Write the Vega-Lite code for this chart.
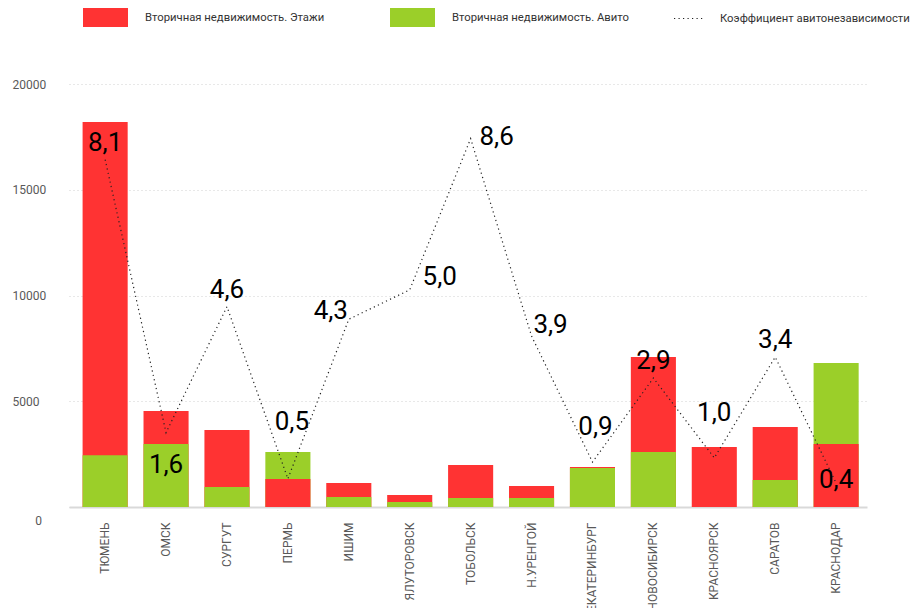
{
  "$schema": "https://vega.github.io/schema/vega-lite/v6.json",
  "width": 798,
  "height": 423,
  "autosize": {"type": "none"},
  "padding": {"left": 69, "top": 84, "right": 47, "bottom": 101},
  "background": "white",
  "config": {
    "locale": {"number": {"decimal": ",", "thousands": " ", "grouping": [3], "currency": ["", ""]}},
    "view": {"stroke": null},
    "font": "Roboto"
  },
  "datasets": {
    "bars": [
      {"city": "ТЮМЕНЬ", "series": "Вторичная недвижимость. Этажи", "value": 18200},
      {"city": "ТЮМЕНЬ", "series": "Вторичная недвижимость. Авито", "value": 2450},
      {"city": "ОМСК", "series": "Вторичная недвижимость. Этажи", "value": 4540},
      {"city": "ОМСК", "series": "Вторичная недвижимость. Авито", "value": 2980},
      {"city": "СУРГУТ", "series": "Вторичная недвижимость. Этажи", "value": 3640},
      {"city": "СУРГУТ", "series": "Вторичная недвижимость. Авито", "value": 950},
      {"city": "ПЕРМЬ", "series": "Вторичная недвижимость. Этажи", "value": 1320},
      {"city": "ПЕРМЬ", "series": "Вторичная недвижимость. Авито", "value": 2600},
      {"city": "ИШИМ", "series": "Вторичная недвижимость. Этажи", "value": 1140},
      {"city": "ИШИМ", "series": "Вторичная недвижимость. Авито", "value": 470},
      {"city": "ЯЛУТОРОВСК", "series": "Вторичная недвижимость. Этажи", "value": 570},
      {"city": "ЯЛУТОРОВСК", "series": "Вторичная недвижимость. Авито", "value": 240},
      {"city": "ТОБОЛЬСК", "series": "Вторичная недвижимость. Этажи", "value": 1990},
      {"city": "ТОБОЛЬСК", "series": "Вторичная недвижимость. Авито", "value": 430},
      {"city": "Н.УРЕНГОЙ", "series": "Вторичная недвижимость. Этажи", "value": 990},
      {"city": "Н.УРЕНГОЙ", "series": "Вторичная недвижимость. Авито", "value": 430},
      {"city": "ЕКАТЕРИНБУРГ", "series": "Вторичная недвижимость. Этажи", "value": 1890},
      {"city": "ЕКАТЕРИНБУРГ", "series": "Вторичная недвижимость. Авито", "value": 1840},
      {"city": "НОВОСИБИРСК", "series": "Вторичная недвижимость. Этажи", "value": 7090},
      {"city": "НОВОСИБИРСК", "series": "Вторичная недвижимость. Авито", "value": 2600},
      {"city": "КРАСНОЯРСК", "series": "Вторичная недвижимость. Этажи", "value": 2840},
      {"city": "КРАСНОЯРСК", "series": "Вторичная недвижимость. Авито", "value": 0},
      {"city": "САРАТОВ", "series": "Вторичная недвижимость. Этажи", "value": 3780},
      {"city": "САРАТОВ", "series": "Вторичная недвижимость. Авито", "value": 1280},
      {"city": "КРАСНОДАР", "series": "Вторичная недвижимость. Этажи", "value": 2980},
      {"city": "КРАСНОДАР", "series": "Вторичная недвижимость. Авито", "value": 6810}
    ],
    "coef": [
      {"city": "ТЮМЕНЬ", "coef": 8.1},
      {"city": "ОМСК", "coef": 1.6},
      {"city": "СУРГУТ", "coef": 4.6},
      {"city": "ПЕРМЬ", "coef": 0.5},
      {"city": "ИШИМ", "coef": 4.3},
      {"city": "ЯЛУТОРОВСК", "coef": 5.0},
      {"city": "ТОБОЛЬСК", "coef": 8.6},
      {"city": "Н.УРЕНГОЙ", "coef": 3.9},
      {"city": "ЕКАТЕРИНБУРГ", "coef": 0.9},
      {"city": "НОВОСИБИРСК", "coef": 2.9},
      {"city": "КРАСНОЯРСК", "coef": 1.0},
      {"city": "САРАТОВ", "coef": 3.4},
      {"city": "КРАСНОДАР", "coef": 0.4}
    ]
  },
  "layer": [
    {
      "data": {"name": "bars"},
      "mark": {"type": "bar"},
      "encoding": {
        "x": {
          "field": "city", "type": "nominal", "sort": null,
          "scale": {"paddingInner": 0.26, "paddingOuter": 0.18, "align": 0.62},
          "axis": {
            "title": null, "labelAngle": -90, "labelAlign": "right", "labelBaseline": "middle",
            "labelPadding": 15, "ticks": false, "domainColor": "#D9D9D9", "domainWidth": 2,
            "labelColor": "#595959", "labelFontSize": 12, "grid": false
          }
        },
        "y": {
          "field": "value", "type": "quantitative", "stack": null,
          "scale": {"domain": [0, 20000], "nice": false},
          "axis": {
            "title": null, "values": [0, 5000, 10000, 15000, 20000], "format": "d",
            "domain": false, "ticks": false, "grid": true, "gridColor": "#D0D0D0",
            "gridDash": [1, 3], "gridWidth": 1, "labelColor": "#595959", "labelFontSize": 12,
            "labelAlign": {"condition": {"test": "datum.value === 0", "value": "center"}, "value": "left"},
            "labelPadding": {"condition": {"test": "datum.value === 0", "value": 31}, "value": 57},
            "labelOffset": {"condition": {"test": "datum.value === 0", "value": 13}, "value": 0}
          }
        },
        "color": {
          "field": "series", "type": "nominal",
          "scale": {
            "domain": ["Вторичная недвижимость. Этажи", "Вторичная недвижимость. Авито"],
            "range": ["#FF3333", "#9BCF29"]
          },
          "legend": {
            "orient": "none", "legendX": 14, "legendY": -89, "direction": "horizontal",
            "title": null, "symbolType": "M-1,-0.422H1V0.422H-1Z", "symbolSize": 2025,
            "symbolStrokeWidth": 0, "symbolOpacity": 1, "labelFontSize": 11.3, "labelColor": "#333333",
            "labelOffset": 17, "columnPadding": 65, "padding": 0, "labelLimit": 300
          }
        },
        "order": {"field": "value", "type": "quantitative", "sort": "descending"}
      }
    },
    {
      "data": {"name": "coef"},
      "layer": [
        {
          "mark": {"type": "line", "color": "#222222", "strokeWidth": 1.2},
          "encoding": {
            "x": {"field": "city", "type": "nominal", "sort": null},
            "y": {"field": "coef", "type": "quantitative", "scale": {"domain": [-0.17, 9.9], "nice": false, "zero": false}, "axis": null},
            "strokeDash": {
              "datum": "Коэффициент авитонезависимости",
              "scale": {"range": [[1.2, 3.3]]},
              "legend": {
                "orient": "none", "legendX": 604, "legendY": -81.5, "title": null,
                "symbolType": "stroke", "symbolSize": 900, "symbolStrokeColor": "#222222",
                "symbolStrokeWidth": 1.2, "labelFontSize": 11.3, "labelColor": "#333333",
                "labelOffset": 15, "padding": 0, "labelLimit": 300
              }
            }
          }
        },
        {
          "transform": [{"filter": {"field": "city", "oneOf": ["ТЮМЕНЬ", "СУРГУТ", "НОВОСИБИРСК", "САРАТОВ"]}}],
          "mark": {"type": "text", "fontSize": 26, "color": "black", "dx": 0, "dy": -17},
          "encoding": {
            "x": {"field": "city", "type": "nominal", "sort": null},
            "y": {"field": "coef", "type": "quantitative"},
            "text": {"field": "coef", "type": "quantitative", "format": ".1f"}
          }
        },
        {
          "transform": [{"filter": {"field": "city", "equal": "ОМСК"}}],
          "mark": {"type": "text", "fontSize": 26, "color": "black", "dx": 0, "dy": 32},
          "encoding": {
            "x": {"field": "city", "type": "nominal", "sort": null},
            "y": {"field": "coef", "type": "quantitative"},
            "text": {"field": "coef", "type": "quantitative", "format": ".1f"}
          }
        },
        {
          "transform": [{"filter": {"field": "city", "equal": "ПЕРМЬ"}}],
          "mark": {"type": "text", "fontSize": 26, "color": "black", "dx": 4, "dy": -57},
          "encoding": {
            "x": {"field": "city", "type": "nominal", "sort": null},
            "y": {"field": "coef", "type": "quantitative"},
            "text": {"field": "coef", "type": "quantitative", "format": ".1f"}
          }
        },
        {
          "transform": [{"filter": {"field": "city", "equal": "ИШИМ"}}],
          "mark": {"type": "text", "fontSize": 26, "color": "black", "dx": -18, "dy": -8},
          "encoding": {
            "x": {"field": "city", "type": "nominal", "sort": null},
            "y": {"field": "coef", "type": "quantitative"},
            "text": {"field": "coef", "type": "quantitative", "format": ".1f"}
          }
        },
        {
          "transform": [{"filter": {"field": "city", "equal": "ЯЛУТОРОВСК"}}],
          "mark": {"type": "text", "fontSize": 26, "color": "black", "dx": 30, "dy": -13},
          "encoding": {
            "x": {"field": "city", "type": "nominal", "sort": null},
            "y": {"field": "coef", "type": "quantitative"},
            "text": {"field": "coef", "type": "quantitative", "format": ".1f"}
          }
        },
        {
          "transform": [{"filter": {"field": "city", "equal": "ТОБОЛЬСК"}}],
          "mark": {"type": "text", "fontSize": 26, "color": "black", "dx": 26, "dy": -2},
          "encoding": {
            "x": {"field": "city", "type": "nominal", "sort": null},
            "y": {"field": "coef", "type": "quantitative"},
            "text": {"field": "coef", "type": "quantitative", "format": ".1f"}
          }
        },
        {
          "transform": [{"filter": {"field": "city", "equal": "Н.УРЕНГОЙ"}}],
          "mark": {"type": "text", "fontSize": 26, "color": "black", "dx": 19, "dy": -11},
          "encoding": {
            "x": {"field": "city", "type": "nominal", "sort": null},
            "y": {"field": "coef", "type": "quantitative"},
            "text": {"field": "coef", "type": "quantitative", "format": ".1f"}
          }
        },
        {
          "transform": [{"filter": {"field": "city", "equal": "ЕКАТЕРИНБУРГ"}}],
          "mark": {"type": "text", "fontSize": 26, "color": "black", "dx": 3, "dy": -35},
          "encoding": {
            "x": {"field": "city", "type": "nominal", "sort": null},
            "y": {"field": "coef", "type": "quantitative"},
            "text": {"field": "coef", "type": "quantitative", "format": ".1f"}
          }
        },
        {
          "transform": [{"filter": {"field": "city", "equal": "КРАСНОЯРСК"}}],
          "mark": {"type": "text", "fontSize": 26, "color": "black", "dx": 0, "dy": -45},
          "encoding": {
            "x": {"field": "city", "type": "nominal", "sort": null},
            "y": {"field": "coef", "type": "quantitative"},
            "text": {"field": "coef", "type": "quantitative", "format": ".1f"}
          }
        },
        {
          "transform": [{"filter": {"field": "city", "equal": "КРАСНОДАР"}}],
          "mark": {"type": "text", "fontSize": 26, "color": "black", "dx": 0, "dy": -3},
          "encoding": {
            "x": {"field": "city", "type": "nominal", "sort": null},
            "y": {"field": "coef", "type": "quantitative"},
            "text": {"field": "coef", "type": "quantitative", "format": ".1f"}
          }
        }
      ]
    }
  ],
  "resolve": {"scale": {"y": "independent"}}
}
